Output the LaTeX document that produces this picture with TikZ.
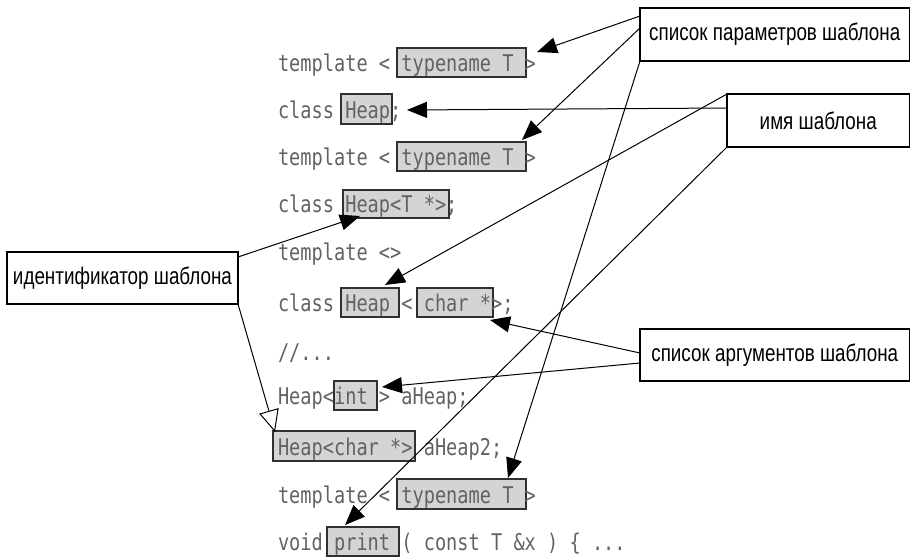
\documentclass[tikz,border=0pt]{standalone}
\usepackage{fontspec}
\usetikzlibrary{arrows.meta,calc}
\newfontfamily\codefont[FakeStretch=0.81]{DejaVu Sans Mono}
\newfontfamily\lblfont[FakeStretch=0.785]{Liberation Sans}
\definecolor{codegray}{HTML}{626262}
\definecolor{hlfill}{HTML}{D4D4D4}
\definecolor{hlline}{HTML}{303030}
\tikzset{
  code/.style={anchor=base west, inner sep=0pt, outer sep=0pt, text=codegray,
    font=\codefont\fontsize{23}{23}\selectfont},
  hl/.style={draw=hlline, fill=hlfill, line width=1.2pt, anchor=north west,
    inner sep=0pt, outer sep=0pt},
  lbl/.style={draw=black, fill=white, line width=1.2pt, anchor=north west,
    inner sep=0pt, outer sep=0pt, font=\lblfont\fontsize{24}{24}\selectfont},
  conn/.style={draw=black, line width=1pt, -{Triangle[length=20pt,width=16pt]}},
  openconn/.style={draw=black, line width=1pt, -{Triangle[open,fill=white,length=22pt,width=20pt]}}
}
\begin{document}
\begin{tikzpicture}[x=1pt,y=-1pt]
\useasboundingbox (0,0) rectangle (911,557);
% highlight boxes
\node[hl, minimum width=129pt, minimum height=29pt] (tn1) at (397,48) {};
\node[hl, minimum width=51pt, minimum height=30pt] (heap2) at (341,94) {};
\node[hl, minimum width=129pt, minimum height=29pt] (tn3) at (397,142) {};
\node[hl, minimum width=106pt, minimum height=28pt] (heap4) at (343,190) {};
\node[hl, minimum width=58pt, minimum height=29pt] (heap6) at (341,288) {};
\node[hl, minimum width=76pt, minimum height=29pt] (chr) at (417,288) {};
\node[hl, minimum width=43pt, minimum height=29pt] (int) at (334,381) {};
\node[hl, minimum width=142pt, minimum height=30pt] (heap9) at (273,431) {};
\node[hl, minimum width=129pt, minimum height=30pt] (tn10) at (397,479) {};
\node[hl, minimum width=72pt, minimum height=29pt] (print) at (327,527) {};
% code lines
\node[code] (l1) at (278,71) {template < typename T >};
\node[code] (l2) at (278,118) {class Heap;};
\node[code] (l3) at (278,165) {template < typename T >};
\node[code] (l4) at (278,212) {class Heap<T *>;};
\node[code] (l5) at (278,260) {template <>};
\node[code] (l6) at (278,311) {class Heap < char *>;};
\node[code] (l7) at (278,360) {//...};
\node[code] (l8) at (278,404) {Heap<int > aHeap;};
\node[code] (l9) at (278,455) {Heap<char *> aHeap2;};
\node[code] (l10) at (278,503) {template < typename T >};
\node[code] (l11) at (278,550) {void print ( const T \&x ) \{ ...};
% label boxes
\node[lbl, minimum width=269.5pt, minimum height=53pt] (plist) at (640,8) {список параметров шаблона};
\node[lbl, minimum width=182.5pt, minimum height=53pt] (name) at (727,94) {имя шаблона};
\node[lbl, minimum width=269.5pt, minimum height=52pt] (alist) at (640,329) {список аргументов шаблона};
\node[lbl, minimum width=231pt, minimum height=52pt] (ident) at (7,252) {идентификатор шаблона};
% connectors
\draw[conn] ($(plist.north west)+(0,8)$) -- ($(tn1.north east)+(11,4)$);
\draw[conn] ($(plist.north west)+(0,20)$) -- ($(tn3.north east)+(-4,-2)$);
\draw[conn] (plist.south west) -- ($(tn10.north east)+(-18,-1)$);
\draw[conn] ($(name.north west)+(0,14)$) -- ($(heap2.east)+(15,1)$);
\draw[conn] (name.north west) -- ($(heap6.north east)+(-14,-3)$);
\draw[conn] (name.south west) -- ($(print.north west)+(18,-2)$);
\draw[conn] ($(alist.west)+(0,-2)$) -- ($(chr.south east)+(-3,3)$);
\draw[conn] ($(alist.west)+(0,8)$) -- ($(int.north east)+(5,6)$);
\draw[conn] ($(ident.north east)+(0,5)$) -- ($(heap4.south west)+(17,-2)$);
\draw[openconn] (ident.south east) -- ($(heap9.north west)+(2,1)$);
\end{tikzpicture}
\end{document}
